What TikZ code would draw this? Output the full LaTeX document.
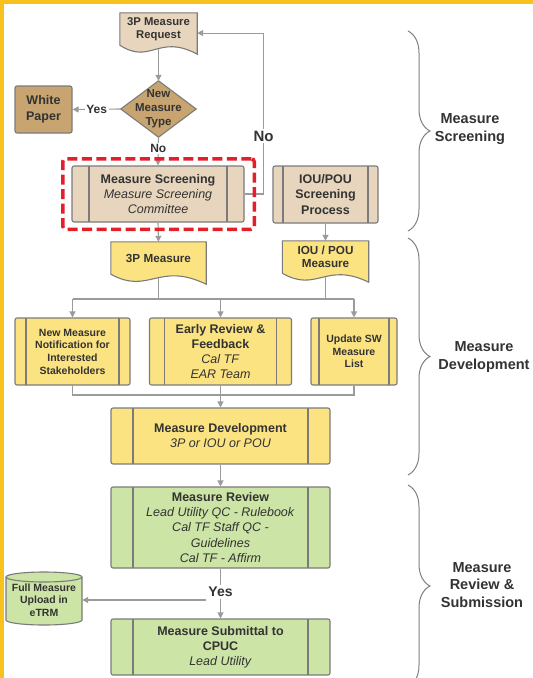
\documentclass[tikz,border=0pt]{standalone}
\usepackage{fontspec}
\setmainfont{Liberation Sans}
\usetikzlibrary{arrows.meta,calc,decorations.pathreplacing}
\pgfdeclarelayer{frame}
\pgfdeclarelayer{background}
\pgfsetlayers{frame,background,main}
\definecolor{framey}{HTML}{F8C21E}
\definecolor{tanL}{HTML}{E7D6BD}
\definecolor{tanD}{HTML}{C8A470}
\definecolor{yel}{HTML}{FCE382}
\definecolor{grn}{HTML}{CCE4A6}
\definecolor{bord}{HTML}{7B7B7B}
\definecolor{arrc}{HTML}{9B9B9B}
\definecolor{txt}{HTML}{333333}
\definecolor{hlred}{HTML}{E3202A}
\definecolor{bracec}{HTML}{808080}
\newcommand{\fs}[2]{\fontsize{#1}{#2}\selectfont}
\tikzset{
 pbox/.style={draw=bord, line width=1.1pt, rounded corners=2pt},
 procbox/.style={pbox, path picture={
   \draw[bord, line width=1.1pt] ($(path picture bounding box.north west)+(#1,0)$) -- ($(path picture bounding box.south west)+(#1,0)$);
   \draw[bord, line width=1.1pt] ($(path picture bounding box.north east)+(-#1,0)$) -- ($(path picture bounding box.south east)+(-#1,0)$);}},
 shp/.style={draw=bord, line width=1.1pt},
 ln/.style={draw=arrc, line width=1.1pt},
 arr/.style={ln, -{Triangle[length=6pt,width=6pt]}},
 lbl/.style={fill=white, inner sep=1.5pt, font=\fs{12}{12}\bfseries},
 brc/.style={draw=bracec, line width=1pt, decorate, decoration={brace, amplitude=22pt}},
 blbl/.style={font=\fs{14.5}{17.5}\bfseries},
}
\begin{document}
\begin{tikzpicture}[x=1pt,y=-1pt,
  every node/.style={text=txt, inner sep=0pt, align=center}]
\useasboundingbox (0,0) rectangle (533,678);
\begin{pgfonlayer}{frame}
\fill[framey] (0,0) rectangle (533,678);
\fill[white] (3.5,4) rectangle (533,678);
\end{pgfonlayer}

% text-only nodes for drawn shapes
\node[minimum width=77, minimum height=32, font=\fs{11.3}{13}\bfseries] (req) at (158.5,29) {3P Measure\\Request};
\node[minimum width=75, minimum height=56, font=\fs{11.5}{14}\bfseries] (dia) at (158.5,109) {New\\Measure\\Type};
\node[minimum width=95, minimum height=32, font=\fs{11.7}{13.5}\bfseries] (p3) at (158.5,258) {3P Measure};
\node[minimum width=86, minimum height=32, font=\fs{11.7}{13.5}\bfseries] (im) at (325.5,257) {IOU / POU\\Measure};
\node[minimum width=76, minimum height=53, font=\fs{10.5}{12.3}\bfseries] (db) at (44,600) {Full Measure\\Upload in\\eTRM};

\begin{pgfonlayer}{background}
\draw[shp, fill=tanL] (req.north west) -- (req.north east) -- ($(req.south east)+(0,9)$)
  .. controls ($(req.south west)!0.5!(req.south east)+(0,-12)$) and ($(req.south west)!0.4!(req.south east)+(0,20)$) .. (req.south west) -- cycle;
\draw[shp, fill=yel] (p3.north west) -- (p3.north east) -- ($(p3.south east)+(0,10)$)
  .. controls ($(p3.south west)!0.5!(p3.south east)+(0,-13)$) and ($(p3.south west)!0.4!(p3.south east)+(0,21)$) .. (p3.south west) -- cycle;
\draw[shp, fill=yel] (im.north west) -- (im.north east) -- ($(im.south east)+(0,9)$)
  .. controls ($(im.south west)!0.5!(im.south east)+(0,-12)$) and ($(im.south west)!0.4!(im.south east)+(0,20)$) .. (im.south west) -- cycle;
\draw[shp, fill=tanD] (dia.north) -- (dia.east) -- (dia.south) -- (dia.west) -- cycle;
\draw[shp, fill=grn] (6,577) -- (6,620) arc[start angle=180, end angle=0, x radius=38, y radius=5]
  -- (82,577) arc[start angle=0, end angle=-180, x radius=38, y radius=5] -- cycle;
\draw[shp] (6,577) arc[start angle=180, end angle=0, x radius=38, y radius=5];
\end{pgfonlayer}

% boxes
\node[pbox, fill=tanD, minimum width=57, minimum height=47, font=\fs{12.5}{16}\bfseries] (wp) at (43.5,109.5) {White\\Paper};
\node[procbox=17, fill=tanL, minimum width=172, minimum height=56, font=\fs{12.5}{15}] (ws) at (158,194)
  {\textbf{Measure Screening}\\\textit{Measure Screening}\\\textit{Committee}};
\node[procbox=10, fill=tanL, minimum width=105, minimum height=57, font=\fs{12.5}{15.5}\bfseries] (iou) at (325.5,194.5) {IOU/POU\\Screening\\Process};
\node[procbox=11, fill=yel, minimum width=115, minimum height=67, font=\fs{10.5}{12.7}\bfseries] (nm) at (72.5,351.5)
  {New Measure\\Notification for\\Interested\\Stakeholders};
\node[procbox=15, fill=yel, minimum width=142, minimum height=67, font=\fs{12.5}{15.3}] (er) at (220.5,351.5)
  {\textbf{Early Review \&}\\\textbf{Feedback}\\\textit{Cal TF}\\\textit{EAR Team}};
\node[procbox=8, fill=yel, minimum width=86, minimum height=67, font=\fs{10.5}{12.7}\bfseries] (us) at (354,351.5)
  {Update SW\\Measure\\List};
\node[procbox=22, fill=yel, minimum width=219, minimum height=56, font=\fs{12.5}{15}] (md) at (220.5,436)
  {\textbf{Measure Development}\\\textit{3P or IOU or POU}};
\node[procbox=22, fill=grn, minimum width=219, minimum height=81, font=\fs{12.5}{15.3}] (mr) at (220.5,527.5)
  {\textbf{Measure Review}\\\textit{Lead Utility QC - Rulebook}\\\textit{Cal TF Staff QC -}\\\textit{Guidelines}\\\textit{Cal TF - Affirm}};
\node[procbox=22, fill=grn, minimum width=219, minimum height=56, font=\fs{12.5}{15}] (ms) at (220.5,647)
  {\textbf{Measure Submittal to}\\\textbf{CPUC}\\\textit{Lead Utility}};

% connectors
\draw[arr] ($(req.south)+(0,4)$) -- (dia.north);
\draw[arr] (dia.west) -- node[lbl] {Yes} (wp.east);
\draw[arr] (dia.south) -- node[lbl, pos=0.41] {No} (ws.north);
\draw[arr] (ws.east) -- ++(19,0) |- node[lbl, pos=0.18, font=\fs{15}{15}\bfseries] {No} ($(req.north east)!0.625!(req.south east)$);
\draw[arr] (ws.south) -- (p3.north);
\draw[arr] (iou.south) -- (im.north);

\coordinate (bus1) at (220.5,299);
\draw[ln] ($(p3.south)+(0,4)$) -- (p3.south |- bus1);
\draw[ln] ($(im.south)+(0,4)$) -- (im.south |- bus1);
\draw[ln] (nm.north |- bus1) -- (us.north |- bus1);
\draw[arr] (nm.north |- bus1) -- (nm.north);
\draw[arr] (er.north |- bus1) -- (er.north);
\draw[arr] (us.north |- bus1) -- (us.north);

\coordinate (bus2) at (220.5,395);
\draw[ln] (nm.south) -- (nm.south |- bus2) -- (us.south |- bus2) -- (us.south);
\draw[arr] (er.south) -- (md.north);
\draw[arr] (md.south) -- (mr.north);

\node[font=\fs{14}{14}\bfseries, inner sep=2pt] (yes2) at (220.5,592) {Yes};
\draw[ln] (mr.south) -- (yes2.north);
\draw[arr] (yes2.south) -- (ms.north);
\draw[arr] (yes2.west |- db.east) -- (db.east);

% highlight
\node[draw=hlred, line width=3.5pt, dash pattern=on 10pt off 4.5pt, rounded corners=3pt,
  minimum width=191.5, minimum height=70.5] (hl) at (158.5,194) {};

% braces
\draw[brc] (408,31) -- (408,231);
\draw[brc] (408,238) -- (408,475);
\draw[brc] (408,485) -- (408,687);
\node[blbl] (b1) at (470,129) {Measure\\Screening};
\node[blbl] (b2) at (484,357) {Measure\\Development};
\node[blbl] (b3) at (482,585) {Measure\\Review \&\\Submission};
\end{tikzpicture}
\end{document}
